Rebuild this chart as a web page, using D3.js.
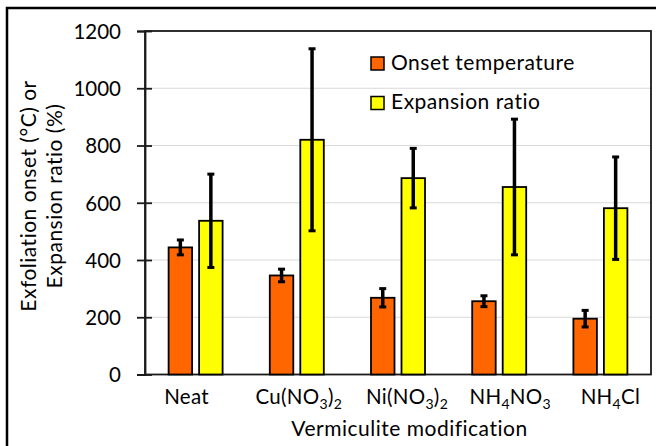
<!DOCTYPE html>
<html>
<head>
<meta charset="utf-8">
<script src="https://cdn.jsdelivr.net/npm/d3@7/dist/d3.min.js"></script>
<style>
  body { margin: 0; background: #fff; }
  svg { display: block; }
  text { font-family: Lato, "Open Sans", sans-serif; fill: #000; }
</style>
</head>
<body>
<script>
// Vermiculite exfoliation: onset temperature and expansion ratio per modification
const categories   = ["Neat", "Cu(NO3)2", "Ni(NO3)2", "NH4NO3", "NH4Cl"];
const onset        = [444, 346, 268, 256, 195];
const onsetErr     = [26, 22, 32, 19, 29];
const expansion    = [537, 820, 686, 655, 581];
const expansionErr = [163, 318, 104, 237, 179];
const yTicks       = [0, 200, 400, 600, 800, 1000, 1200];
const seriesNames  = ["Onset temperature", "Expansion ratio"];
const seriesColors = ["#FF6600", "#FFFF00"];

const W = 656, H = 446;
const plot = { left: 145, right: 651, top: 31, bottom: 374.5 };

const svg = d3.select("body").append("svg")
  .attr("width", W).attr("height", H);

// outer frame
svg.append("rect")
  .attr("x", 7).attr("y", 8).attr("width", W + 10).attr("height", H + 10)
  .attr("fill", "none").attr("stroke", "#000").attr("stroke-width", 2.5);

const x = d3.scaleBand().domain(categories).range([plot.left, plot.right]).padding(0);
const y = d3.scaleLinear().domain([0, 1200]).range([plot.bottom, plot.top]);

// gridlines
svg.append("g").selectAll("line")
  .data(yTicks.filter(t => t > 0 && t < 1200))
  .join("line")
  .attr("x1", plot.left).attr("x2", plot.right)
  .attr("y1", d => y(d)).attr("y2", d => y(d))
  .attr("stroke", "#d9d9d9").attr("stroke-width", 1.2);

// plot border
svg.append("rect")
  .attr("x", plot.left).attr("y", plot.top)
  .attr("width", plot.right - plot.left).attr("height", plot.bottom - plot.top)
  .attr("fill", "none").attr("stroke", "#1a1a1a").attr("stroke-width", 1.8);

// y axis with ticks crossing the axis line
const yAxis = d3.axisLeft(y).tickValues(yTicks).tickSize(8).tickPadding(16)
  .tickFormat(d3.format("d"));
const gy = svg.append("g").attr("transform", `translate(${plot.left},0)`).call(yAxis);
gy.select(".domain").attr("stroke", "#1a1a1a").attr("stroke-width", 1.8);
gy.selectAll(".tick line").attr("x2", -8).attr("x1", 7).attr("stroke", "#1a1a1a").attr("stroke-width", 1.8);
gy.selectAll(".tick text").attr("font-size", 20.5).attr("font-family", "Lato, sans-serif")
  .attr("fill", "#000").attr("dy", "0.36em");

// bars
const barW = 23.5, gap = 3.5;
const series = [
  { vals: onset, errs: onsetErr, color: seriesColors[0], off: -gap - barW },
  { vals: expansion, errs: expansionErr, color: seriesColors[1], off: gap }
];
series.forEach(s => {
  const g = svg.append("g");
  const rows = categories.map((c, i) => ({ c, v: s.vals[i], e: s.errs[i] }));
  g.selectAll("rect").data(rows).join("rect")
    .attr("x", d => x(d.c) + x.bandwidth() / 2 + s.off)
    .attr("y", d => y(d.v))
    .attr("width", barW)
    .attr("height", d => y(0) - y(d.v))
    .attr("fill", s.color).attr("stroke", "#000").attr("stroke-width", 1.8);
  // error bars
  const eg = g.selectAll("g.err").data(rows).join("g").attr("class", "err");
  const cx = d => x(d.c) + x.bandwidth() / 2 + s.off + barW / 2;
  eg.append("line")
    .attr("x1", cx).attr("x2", cx)
    .attr("y1", d => y(d.v + d.e)).attr("y2", d => y(d.v - d.e))
    .attr("stroke", "#000").attr("stroke-width", 3.5);
  [1, -1].forEach(sign => {
    eg.append("line")
      .attr("x1", d => cx(d) - 3.5).attr("x2", d => cx(d) + 3.5)
      .attr("y1", d => y(d.v + sign * d.e)).attr("y2", d => y(d.v + sign * d.e))
      .attr("stroke", "#000").attr("stroke-width", 3);
  });
});

// x category labels, digits as subscripts
const labelNudge = [-9, 2, 9, 11, 10];
const xl = svg.append("g").selectAll("text").data(categories).join("text")
  .attr("x", (d, i) => x(d) + x.bandwidth() / 2 + labelNudge[i])
  .attr("y", 404)
  .attr("text-anchor", "middle")
  .attr("font-size", 20.5)
  .attr("letter-spacing", 0.3);
xl.each(function(d) {
  const t = d3.select(this);
  d.split(/(\d)/).filter(p => p.length).forEach(p => {
    if (/\d/.test(p)) {
      t.append("tspan").attr("font-size", 14).attr("dy", 5).text(p);
    } else {
      const ts = t.append("tspan").text(p);
      // return to baseline after a subscript
      const prev = this.childNodes.length > 1 ? this.childNodes[this.childNodes.length - 2] : null;
      if (prev && /\d/.test(prev.textContent)) ts.attr("dy", -5);
    }
  });
});

// axis titles
svg.append("text")
  .attr("x", 409.5).attr("y", 435.5)
  .attr("text-anchor", "middle").attr("font-size", 21).attr("letter-spacing", 0.5)
  .text("Vermiculite modification");

const yt = svg.append("text")
  .attr("transform", "translate(36,196) rotate(-90)")
  .attr("text-anchor", "middle").attr("font-size", 21).attr("letter-spacing", 0.5);
yt.append("tspan").attr("x", 0).attr("y", 0).text("Exfoliation onset (°C) or");
yt.append("tspan").attr("x", 0).attr("y", 26).text("Expansion ratio (%)");

// legend
const lg = svg.append("g");
seriesNames.forEach((name, i) => {
  const ly = 57 + i * 39.5;
  lg.append("rect")
    .attr("x", 371).attr("y", ly).attr("width", 13).attr("height", 13)
    .attr("fill", seriesColors[i]).attr("stroke", "#000").attr("stroke-width", 1.5);
  lg.append("text")
    .attr("x", 391).attr("y", ly + 12.5)
    .attr("font-size", 21).attr("letter-spacing", 0.5)
    .text(name);
});
</script>
</body>
</html>
